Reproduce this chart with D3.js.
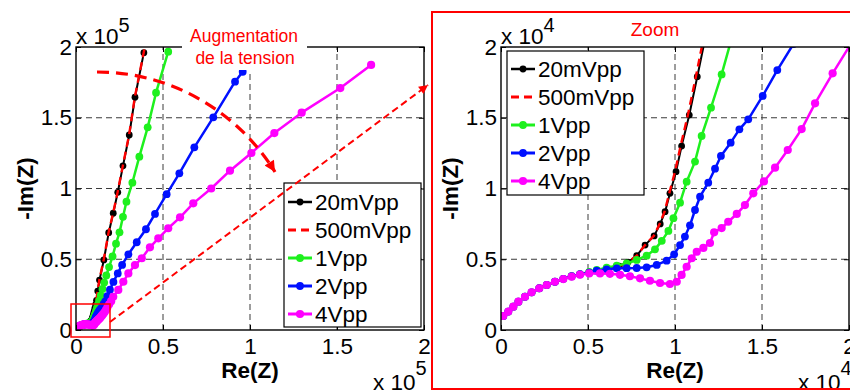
<!DOCTYPE html>
<html><head><meta charset="utf-8">
<script src="https://cdn.jsdelivr.net/npm/d3@7"></script>
<style>
body{margin:0;background:#fff}
svg{display:block}
text{font-family:"Liberation Sans",Arial,sans-serif}
</style>
</head><body>
<svg id="c" width="850" height="390"></svg>
<script>
// ---------------- DATA (Re(Z), -Im(Z) in units of 1e4 ohm) ----------------
const seriesNames = ["20mVpp", "500mVpp", "1Vpp", "2Vpp", "4Vpp"];
const xTicks = [0, 0.5, 1, 1.5, 2];
const yTicks = [0, 0.5, 1, 1.5, 2];
const xTickLabels = ["0", "0.5", "1", "1.5", "2"];
const yTickLabels = ["0", "0.5", "1", "1.5", "2"];

const s20mVpp = [[0.013,0.099],[0.042,0.13],[0.071,0.165],[0.1,0.2],[0.138,0.235],[0.176,0.266],[0.22,0.295],[0.263,0.318],[0.31,0.341],[0.358,0.362],[0.406,0.38],[0.454,0.395],[0.507,0.407],[0.56,0.418],[0.62,0.432],[0.68,0.452],[0.73,0.48],[0.78,0.525],[0.828,0.60],[0.88,0.665],[0.915,0.75],[0.943,0.836],[0.971,0.966],[1.006,1.119],[1.038,1.30],[1.082,1.519],[1.128,1.79],[1.18,2.1],[1.25,2.75],[1.35,3.53],[1.6,4.95],[1.88,6.88],[2.14,8.25],[2.4,9.73],[2.7,11.6],[3.06,13.78],[3.39,16.45],[3.9,19.6]];
const s500mVpp = [[0.013,0.099],[0.042,0.13],[0.071,0.165],[0.1,0.2],[0.138,0.235],[0.176,0.266],[0.22,0.295],[0.263,0.318],[0.31,0.341],[0.358,0.362],[0.406,0.38],[0.454,0.395],[0.507,0.407],[0.56,0.418],[0.62,0.432],[0.68,0.452],[0.73,0.48],[0.78,0.525],[0.828,0.60],[0.878,0.665],[0.912,0.75],[0.94,0.836],[0.967,0.966],[1.0,1.119],[1.032,1.30],[1.074,1.519],[1.12,1.79],[1.17,2.1],[1.24,2.75],[1.34,3.53],[1.59,4.95],[1.87,6.88],[2.13,8.25],[2.39,9.73],[2.69,11.6],[3.05,13.78],[3.38,16.45],[3.89,19.6],[4.0,20.3]];
const s1Vpp = [[0.013,0.099],[0.042,0.13],[0.071,0.165],[0.1,0.2],[0.138,0.235],[0.176,0.266],[0.22,0.295],[0.263,0.318],[0.31,0.341],[0.358,0.362],[0.406,0.38],[0.454,0.395],[0.507,0.41],[0.55,0.425],[0.607,0.44],[0.665,0.455],[0.722,0.47],[0.78,0.495],[0.837,0.525],[0.885,0.57],[0.924,0.63],[0.962,0.70],[0.991,0.79],[1.029,0.90],[1.067,1.048],[1.115,1.19],[1.153,1.371],[1.207,1.571],[1.268,1.806],[1.33,2.08],[1.42,2.45],[1.52,2.9],[1.62,3.35],[1.74,3.85],[1.9,4.45],[2.1,5.2],[2.3,6.1],[2.5,6.9],[2.7,8.0],[2.9,9.07],[3.24,10.41],[3.64,12.25],[4.12,14.32],[4.6,16.77],[5.3,19.67]];
const s2Vpp = [[0.013,0.099],[0.042,0.13],[0.071,0.165],[0.1,0.2],[0.138,0.235],[0.176,0.266],[0.22,0.295],[0.263,0.318],[0.31,0.341],[0.358,0.362],[0.406,0.38],[0.454,0.394],[0.507,0.405],[0.55,0.419],[0.607,0.429],[0.665,0.436],[0.722,0.437],[0.78,0.438],[0.837,0.443],[0.895,0.46],[0.952,0.49],[0.995,0.535],[1.029,0.60],[1.057,0.66],[1.086,0.74],[1.115,0.848],[1.144,0.942],[1.191,1.041],[1.23,1.14],[1.264,1.23],[1.32,1.324],[1.37,1.418],[1.421,1.489],[1.504,1.654],[1.588,1.837],[1.68,2.02],[1.8,2.4],[1.95,2.85],[2.15,3.4],[2.4,4.0],[2.65,4.6],[3.01,5.35],[3.49,6.2],[4.02,7.12],[4.54,8.2],[5.21,9.6],[5.94,11.07],[6.8,12.91],[7.89,15.03],[9.14,17.55],[9.58,18.25]];
const s4Vpp = [[0.013,0.099],[0.042,0.13],[0.071,0.165],[0.1,0.2],[0.138,0.235],[0.176,0.266],[0.22,0.295],[0.263,0.318],[0.31,0.341],[0.358,0.36],[0.406,0.377],[0.454,0.391],[0.507,0.40],[0.569,0.40],[0.626,0.397],[0.684,0.39],[0.741,0.38],[0.799,0.365],[0.856,0.348],[0.914,0.332],[0.971,0.325],[1.01,0.341],[1.038,0.389],[1.067,0.447],[1.096,0.507],[1.125,0.553],[1.163,0.58],[1.201,0.615],[1.225,0.69],[1.268,0.72],[1.306,0.765],[1.355,0.82],[1.402,0.883],[1.45,0.966],[1.511,1.05],[1.575,1.147],[1.648,1.272],[1.728,1.42],[1.805,1.602],[1.906,1.814],[2.02,2.04],[2.14,2.35],[2.43,2.83],[2.72,3.41],[3.01,4.0],[3.39,4.59],[3.78,5.07],[4.25,5.84],[4.73,6.48],[5.3,7.19],[5.98,7.96],[6.74,8.95],[7.77,10.0],[8.85,11.26],[10.08,12.51],[11.4,13.92],[12.97,15.36],[15.19,17.1],[16.96,18.73]];

const seriesData = [s20mVpp, s500mVpp, s1Vpp, s2Vpp, s4Vpp];

// ---------------- STYLE ----------------
const seriesStyle = [
  {color:"#000000", width:2,   dash:null, marker:true,  r:3.4},
  {color:"#ff0000", width:2.4, dash:"8,5", marker:false, r:0},
  {color:"#1ef01e", width:2.5, dash:null, marker:true,  r:3.9},
  {color:"#0010ff", width:2.5, dash:null, marker:true,  r:3.9},
  {color:"#ff00ff", width:2.5, dash:null, marker:true,  r:4.1}
];

const svg = d3.select("#c");
const defs = svg.append("defs");
defs.append("marker").attr("id","ahThin").attr("viewBox","0 0 10 10")
  .attr("refX",10).attr("refY",5).attr("markerWidth",12).attr("markerHeight",9)
  .attr("orient","auto").attr("markerUnits","userSpaceOnUse")
  .append("path").attr("d","M0,0L10,5L0,10z").attr("fill","#ff0000");
defs.append("marker").attr("id","ahThick").attr("viewBox","0 0 10 10")
  .attr("refX",10).attr("refY",5).attr("markerWidth",15).attr("markerHeight",11)
  .attr("orient","auto").attr("markerUnits","userSpaceOnUse")
  .append("path").attr("d","M0,0L10,5L0,10z").attr("fill","#ff0000");

const FONT = 22.5;

function plot(cfg){
  const x = d3.scaleLinear().domain([0,2]).range([cfg.left, cfg.right]);
  const y = d3.scaleLinear().domain([0,2]).range([330, 47]);
  const g = svg.append("g");
  const clipId = "clip" + cfg.id;
  defs.append("clipPath").attr("id", clipId).append("rect")
    .attr("x", cfg.left).attr("y", y(2)).attr("width", cfg.right-cfg.left).attr("height", y(0)-y(2));

  // grid
  const grid = g.append("g").attr("stroke","#3a3a3a").attr("stroke-width",1).attr("stroke-dasharray","6,4");
  grid.selectAll(".gx").data(xTicks.filter(t=>t>0 && t<2)).join("line")
    .attr("x1",d=>x(d)).attr("x2",d=>x(d)).attr("y1",y(0)).attr("y2",y(2));
  grid.selectAll(".gy").data(yTicks.filter(t=>t>0 && t<2)).join("line")
    .attr("y1",d=>y(d)).attr("y2",d=>y(d)).attr("x1",x(0)).attr("x2",x(2));

  // series
  const sg = g.append("g").attr("clip-path", `url(#${clipId})`);
  const line = d3.line().x(d=>x(d[0]/cfg.div)).y(d=>y(d[1]/cfg.div));
  seriesData.forEach((data,i)=>{
    const st = seriesStyle[i];
    sg.append("path").datum(data).attr("d", line).attr("fill","none")
      .attr("stroke", st.color).attr("stroke-width", st.width)
      .attr("stroke-dasharray", st.dash).attr("stroke-linejoin","round");
    if (st.marker){
      sg.append("g").selectAll("circle").data(data).join("circle")
        .attr("cx", d=>x(d[0]/cfg.div)).attr("cy", d=>y(d[1]/cfg.div))
        .attr("r", st.r).attr("fill", st.color);
    }
  });

  // axes
  const ab = g.append("g").attr("transform",`translate(0,${y(0)})`)
    .call(d3.axisBottom(x).tickValues(xTicks).tickFormat((d,i)=>xTickLabels[i]).tickSizeInner(-5).tickSizeOuter(0).tickPadding(8));
  const al = g.append("g").attr("transform",`translate(${x(0)},0)`)
    .call(d3.axisLeft(y).tickValues(yTicks).tickFormat((d,i)=>yTickLabels[i]).tickSizeInner(-5).tickSizeOuter(0).tickPadding(4));
  const at = g.append("g").attr("transform",`translate(0,${y(2)})`)
    .call(d3.axisTop(x).tickValues(xTicks).tickFormat("").tickSizeInner(-5).tickSizeOuter(0));
  const ar = g.append("g").attr("transform",`translate(${x(2)},0)`)
    .call(d3.axisRight(y).tickValues(yTicks).tickFormat("").tickSizeInner(-5).tickSizeOuter(0));
  [ab,al,at,ar].forEach(a=>{
    a.select(".domain").remove();
    a.selectAll("line").attr("stroke","#000");
    a.selectAll("text").attr("font-size",FONT).attr("font-family","Liberation Sans, Arial, sans-serif").attr("fill","#000");
  });
  at.selectAll("text").remove(); ar.selectAll("text").remove();

  // box
  g.append("rect").attr("x",x(0)).attr("y",y(2)).attr("width",x(2)-x(0)).attr("height",y(0)-y(2))
    .attr("fill","none").attr("stroke","#000").attr("stroke-width",1.4);

  // axis labels
  g.append("text").attr("x",(x(0)+x(2))/2).attr("y",378).attr("text-anchor","middle")
    .attr("font-size",FONT).attr("font-weight","bold").text("Re(Z)");
  g.append("text").attr("transform",`translate(${x(0)-43},${(y(0)+y(2))/2}) rotate(-90)`)
    .attr("text-anchor","middle").attr("font-size",FONT).attr("font-weight","bold").text("-Im(Z)");

  // multipliers
  const mt = g.append("text").attr("x",x(0)).attr("y",44).attr("font-size",FONT);
  mt.append("tspan").text("x 10");
  mt.append("tspan").attr("dy",-12).attr("font-size",20).text(cfg.exp);
  const mb = g.append("text").attr("x",x(2)-51).attr("y",390).attr("font-size",FONT);
  mb.append("tspan").text("x 10");
  mb.append("tspan").attr("dy",-15).attr("font-size",20).text(cfg.exp);

  // legend
  const L = cfg.legend;
  const lg = g.append("g");
  lg.append("rect").attr("x",L.x).attr("y",L.y).attr("width",137).attr("height",144)
    .attr("fill","#fff").attr("stroke","#000").attr("stroke-width",1.2);
  seriesNames.forEach((name,i)=>{
    const st = seriesStyle[i];
    const cy = L.y + L.first + i*28;
    lg.append("line").attr("x1",L.x+4).attr("x2",L.x+28).attr("y1",cy).attr("y2",cy)
      .attr("stroke",st.color).attr("stroke-width",st.width+0.5).attr("stroke-dasharray",st.dash);
    if (st.marker) lg.append("circle").attr("cx",L.x+16).attr("cy",cy).attr("r",st.r).attr("fill",st.color);
    lg.append("text").attr("x",L.x+31).attr("y",cy).attr("dy","0.36em").attr("font-size",FONT).text(name);
  });
  return {x,y,g};
}

plot({id:"L", left:76, right:424, div:10, exp:"5", legend:{x:284, y:183, first:19}});
plot({id:"R", left:501, right:849, div:1, exp:"4", legend:{x:507, y:51, first:18}});

// ---------------- annotations ----------------
svg.append("rect").attr("x",182).attr("y",18).attr("width",125).attr("height",52).attr("fill","#fff");
svg.append("text").attr("x",244).attr("y",42).attr("text-anchor","middle")
  .attr("font-family","Open Sans").attr("font-size",17.5).attr("fill","#ff0000").text("Augmentation");
svg.append("text").attr("x",245).attr("y",64).attr("text-anchor","middle")
  .attr("font-family","Open Sans").attr("font-size",17.5).attr("fill","#ff0000").text("de la tension");

svg.append("path").attr("d","M97,72 C175,72 240,115 275,172").attr("fill","none")
  .attr("stroke","#ff0000").attr("stroke-width",3.2).attr("stroke-dasharray","12,7")
  .attr("marker-end","url(#ahThick)");

svg.append("rect").attr("x",71).attr("y",304).attr("width",39).attr("height",33)
  .attr("fill","none").attr("stroke","#ff0000").attr("stroke-width",1.5);

svg.append("line").attr("x1",110).attr("y1",322).attr("x2",428).attr("y2",85)
  .attr("stroke","#ff0000").attr("stroke-width",2).attr("stroke-dasharray","7,4")
  .attr("marker-end","url(#ahThin)");

svg.append("rect").attr("x",432).attr("y",12).attr("width",440).attr("height",377)
  .attr("fill","none").attr("stroke","#ff0000").attr("stroke-width",2);
svg.append("text").attr("x",655).attr("y",36).attr("text-anchor","middle")
  .attr("font-family","Open Sans").attr("font-size",19).attr("fill","#ff0000").text("Zoom");
</script>
</body></html>
